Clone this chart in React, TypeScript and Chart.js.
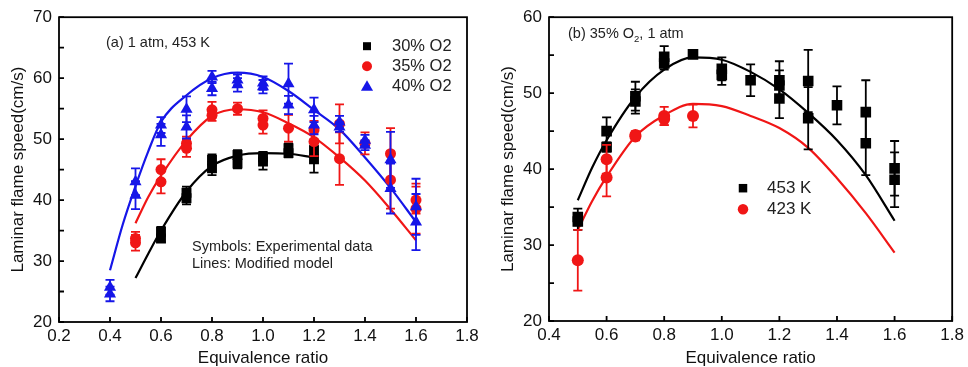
import React, { useEffect, useRef } from 'react';
import { Chart, registerables } from 'chart.js';
Chart.register(...registerables);

const FONT = '"Liberation Sans", Arial, Helvetica, sans-serif';
const BLACK = '#000000';
const RED = '#f01616';
const BLUE = '#1616e8';

// ---------- Panel (a): 1 atm, 453 K ----------
const aX30 = [0.6, 0.6, 0.7, 0.7, 0.8, 0.8, 0.9, 0.9, 1.0, 1.0, 1.1, 1.1, 1.2, 1.2];
const aY30 = [34.8, 33.7, 41.2, 40.3, 46.6, 45.2, 47.4, 46.0, 47.1, 46.3, 48.5, 47.7, 48.2, 46.7];
const aE30 = [0.8, 0.6, 1.0, 1.0, 0.9, 1.1, 0.8, 0.8, 0.8, 1.3, 0.8, 0.7, 1.1, 2.2];

const aX35 = [0.5, 0.5, 0.6, 0.6, 0.7, 0.7, 0.8, 0.8, 0.9, 1.0, 1.0, 1.1, 1.2, 1.2, 1.3, 1.3, 1.4, 1.5, 1.5, 1.6, 1.6];
const aY35 = [33.7, 33.0, 45.0, 43.0, 49.3, 48.5, 54.8, 53.9, 55.0, 53.4, 52.3, 51.8, 51.5, 49.6, 52.5, 46.8, 49.3, 47.6, 43.3, 40.0, 38.6];
const aE35 = [1.1, 1.3, 1.7, 1.9, 1.1, 1.4, 1.3, 0.9, 1.0, 1.3, 1.4, 2.2, 1.5, 2.4, 3.2, 4.3, 1.8, 4.2, 4.7, 2.2, 4.1];

const aX40 = [0.4, 0.4, 0.5, 0.5, 0.6, 0.6, 0.7, 0.7, 0.8, 0.8, 0.9, 0.9, 1.0, 1.0, 1.1, 1.1, 1.2, 1.2, 1.3, 1.3, 1.4, 1.4, 1.5, 1.5, 1.6, 1.6];
const aY40 = [25.7, 24.6, 43.0, 40.8, 52.3, 50.7, 54.9, 52.0, 60.2, 58.3, 59.7, 58.9, 59.2, 58.6, 59.1, 55.6, 54.8, 52.3, 52.8, 52.0, 49.8, 49.0, 46.6, 41.9, 38.9, 36.4];
const aE40 = [1.2, 1.2, 2.2, 2.3, 1.3, 1.8, 2.1, 1.9, 1.0, 1.1, 0.9, 1.1, 1.1, 1.1, 3.3, 1.5, 2.0, 1.5, 1.0, 0.8, 0.9, 0.8, 4.6, 4.1, 4.6, 4.6];

const aCurveX30 = [0.5, 0.55, 0.6, 0.7, 0.8, 0.9, 1.0, 1.1, 1.2];
const aCurve30 = [27.2, 31.2, 35.0, 41.4, 45.6, 47.3, 47.7, 47.6, 47.0];
const aCurveX35 = [0.5, 0.55, 0.6, 0.7, 0.8, 0.9, 1.0, 1.1, 1.2, 1.3, 1.4, 1.5, 1.6];
const aCurve35 = [36.2, 40.5, 44.0, 49.8, 53.8, 54.9, 54.4, 52.6, 50.3, 47.0, 43.2, 38.5, 33.4];
const aCurveX40 = [0.4, 0.45, 0.5, 0.55, 0.6, 0.7, 0.8, 0.9, 1.0, 1.1, 1.2, 1.3, 1.4, 1.5, 1.6];
const aCurve40 = [28.5, 36.0, 42.3, 48.0, 52.8, 57.2, 60.0, 60.9, 60.2, 57.9, 54.8, 51.6, 47.0, 42.0, 36.4];

const aLegend = ['30% O2', '35% O2', '40% O2'];

// ---------- Panel (b): 35% O2, 1 atm ----------
const bX453 = [0.5, 0.5, 0.6, 0.6, 0.7, 0.7, 0.8, 0.8, 0.9, 1.0, 1.0, 1.1, 1.2, 1.2, 1.2, 1.3, 1.3, 1.4, 1.5, 1.5, 1.6, 1.6];
const bY453 = [33.7, 33.1, 45.0, 42.9, 49.6, 48.9, 54.8, 53.9, 55.1, 53.2, 52.4, 51.7, 51.7, 51.0, 49.3, 51.6, 46.7, 48.4, 47.5, 43.4, 40.1, 38.6];
const bE453 = [1.1, 1.1, 1.8, 0.6, 1.9, 1.6, 1.4, 0.8, 0.4, 1.5, 1.3, 2.1, 2.5, 2.0, 2.6, 4.1, 4.1, 2.5, 4.2, 4.2, 3.6, 3.6];

const bX423 = [0.5, 0.6, 0.6, 0.7, 0.7, 0.8, 0.8, 0.9];
const bY423 = [28.0, 41.3, 38.9, 44.5, 44.3, 47.0, 46.6, 47.0];
const bE423 = [4.0, 1.9, 2.5, 0.5, 0.5, 1.2, 0.8, 1.5];

const bCurveX = [0.5, 0.55, 0.6, 0.7, 0.8, 0.9, 1.0, 1.1, 1.2, 1.3, 1.4, 1.5, 1.6];
const bCurve453 = [35.9, 40.2, 43.8, 49.5, 53.1, 54.7, 54.4, 52.8, 50.5, 47.4, 43.8, 39.2, 33.2];
const bCurve423 = [32.0, 35.8, 39.0, 44.3, 47.1, 48.6, 48.3, 47.0, 45.4, 42.8, 38.8, 34.2, 29.0];

const bLegend = ['453 K', '423 K'];

// ---------- helpers ----------
const pts = (xs: number[], ys: number[]) => xs.map((x, i) => ({ x, y: ys[i] }));

const scatterSet = (label: string, xs: number[], ys: number[], errs: number[], color: string, style: string, radius: number, order: number) => ({
  label,
  data: pts(xs, ys),
  errors: errs,
  pointStyle: style,
  pointRadius: radius,
  pointHoverRadius: radius,
  backgroundColor: color,
  borderColor: color,
  pointBorderWidth: 0,
  showLine: false,
  order,
});

const curveSet = (xs: number[], ys: number[], color: string) => ({
  label: '',
  data: pts(xs, ys),
  showLine: true,
  borderColor: color,
  backgroundColor: color,
  borderWidth: 2.2,
  pointRadius: 0,
  cubicInterpolationMode: 'monotone',
  fill: false,
  order: 5,
});

const errorBarPlugin = {
  id: 'errorBars',
  beforeDatasetDraw(chart: any, args: any) {
    const ds = chart.data.datasets[args.index];
    const errs = ds.errors;
    if (!errs) return;
    const { ctx } = chart;
    const x = chart.scales.x;
    const y = chart.scales.y;
    const cap = 4.5;
    ctx.save();
    ctx.strokeStyle = ds.borderColor;
    ctx.lineWidth = 1.8;
    ds.data.forEach((p: any, i: number) => {
      const e = errs[i];
      const px = x.getPixelForValue(p.x);
      const yt = y.getPixelForValue(p.y + e);
      const yb = y.getPixelForValue(p.y - e);
      ctx.beginPath();
      ctx.moveTo(px, yt);
      ctx.lineTo(px, yb);
      ctx.moveTo(px - cap, yt);
      ctx.lineTo(px + cap, yt);
      ctx.moveTo(px - cap, yb);
      ctx.lineTo(px + cap, yb);
      ctx.stroke();
    });
    ctx.restore();
  },
};

const framePlugin = {
  id: 'frame',
  afterDatasetsDraw(chart: any) {
    const { ctx, chartArea: a } = chart;
    const x = chart.scales.x;
    const y = chart.scales.y;
    ctx.save();
    ctx.strokeStyle = '#000';
    ctx.lineWidth = 1.8;
    ctx.strokeRect(a.left, a.top, a.right - a.left, a.bottom - a.top);
    ctx.beginPath();
    x.ticks.forEach((t: any) => {
      const p = x.getPixelForValue(t.value);
      ctx.moveTo(p, a.bottom);
      ctx.lineTo(p, a.bottom - 5);
    });
    y.ticks.forEach((t: any) => {
      const p = y.getPixelForValue(t.value);
      ctx.moveTo(a.left, p);
      ctx.lineTo(a.left + 5, p);
    });
    ctx.stroke();
    ctx.restore();
  },
};

function drawMarker(ctx: CanvasRenderingContext2D, style: string, cx: number, cy: number, s: number, color: string) {
  ctx.fillStyle = color;
  ctx.beginPath();
  if (style === 'rect') {
    ctx.rect(cx - s / 2, cy - s / 2, s, s);
  } else if (style === 'circle') {
    ctx.arc(cx, cy, s / 2, 0, Math.PI * 2);
  } else {
    ctx.moveTo(cx, cy - s * 0.55);
    ctx.lineTo(cx + s * 0.55, cy + s * 0.42);
    ctx.lineTo(cx - s * 0.55, cy + s * 0.42);
    ctx.closePath();
  }
  ctx.fill();
}

function makeConfig(o: any) {
  return {
    type: 'scatter',
    data: { datasets: o.datasets },
    plugins: [errorBarPlugin, framePlugin, { id: 'notes', afterDraw: (chart: any) => o.notes(chart.ctx, chart.chartArea) }],
    options: {
      responsive: false,
      animation: false,
      devicePixelRatio: 1,
      events: [],
      layout: { padding: { left: 0, right: o.padRight, top: 17, bottom: 0 } },
      plugins: { legend: { display: false }, tooltip: { enabled: false } },
      scales: {
        x: {
          type: 'linear',
          min: o.xMin,
          max: o.xMax,
          afterFit: (s: any) => { s.height = o.xAxisHeight; },
          grid: { display: false, drawTicks: false },
          border: { display: false },
          ticks: {
            stepSize: 0.2,
            autoSkip: false,
            maxRotation: 0,
            padding: 4,
            color: '#111',
            font: { family: FONT, size: 17 },
            callback: (v: any) => Number(v).toFixed(1),
          },
          title: {
            display: true,
            text: 'Equivalence ratio',
            color: '#111',
            font: { family: FONT, size: 17, lineHeight: 1 },
            padding: { top: 0, bottom: 0 },
          },
        },
        y: {
          type: 'linear',
          min: o.yMin,
          max: o.yMax,
          afterFit: (s: any) => { s.width = o.yAxisWidth; },
          grid: { display: false, drawTicks: false },
          border: { display: false },
          ticks: {
            stepSize: 5,
            autoSkip: false,
            padding: 7,
            color: '#111',
            font: { family: FONT, size: 17 },
            callback: (v: any) => (Number(v) % 10 === 0 ? String(v) : ''),
          },
          title: {
            display: true,
            text: 'Laminar flame speed(cm/s)',
            color: '#111',
            font: { family: FONT, size: 17, lineHeight: 1.2 },
            padding: { top: o.yTitlePad, bottom: 0 },
          },
        },
      },
    },
  } as any;
}

const configA = () => makeConfig({
  xMin: 0.2, xMax: 1.8, yMin: 20, yMax: 70,
  padRight: 17, xAxisHeight: 45, yAxisWidth: 59, yTitlePad: 8,
  datasets: [
    scatterSet(aLegend[0], aX30, aY30, aE30, BLACK, 'rect', 7, 3),
    scatterSet(aLegend[1], aX35, aY35, aE35, RED, 'circle', 5.5, 2),
    scatterSet(aLegend[2], aX40, aY40, aE40, BLUE, 'triangle', 7, 1),
    curveSet(aCurveX30, aCurve30, BLACK),
    curveSet(aCurveX35, aCurve35, RED),
    curveSet(aCurveX40, aCurve40, BLUE),
  ],
  notes: (ctx: CanvasRenderingContext2D, a: any) => {
    ctx.save();
    ctx.textBaseline = 'middle';
    ctx.textAlign = 'left';
    ctx.fillStyle = '#222';
    ctx.font = `14.5px ${FONT}`;
    ctx.fillText('(a) 1 atm, 453 K', a.left + 47, a.top + 26);
    ctx.fillText('Symbols: Experimental data', a.left + 133, a.top + 230);
    ctx.fillText('Lines: Modified model', a.left + 133, a.top + 247);
    const styles = ['rect', 'circle', 'triangle'];
    const colors = [BLACK, RED, BLUE];
    const sizes = [8, 10, 11];
    ctx.font = `16.5px ${FONT}`;
    aLegend.forEach((t, i) => {
      const yy = a.top + 29 + i * 20;
      drawMarker(ctx, styles[i], a.left + 308, yy, sizes[i], colors[i]);
      ctx.fillStyle = '#222';
      ctx.fillText(t, a.left + 333, yy);
    });
    ctx.restore();
  },
});

const configB = () => makeConfig({
  xMin: 0.4, xMax: 1.8, yMin: 20, yMax: 60,
  padRight: 13, xAxisHeight: 46, yAxisWidth: 65, yTitlePad: 14,
  datasets: [
    scatterSet(bLegend[0], bX453, bY453, bE453, BLACK, 'rect', 7.5, 2),
    scatterSet(bLegend[1], bX423, bY423, bE423, RED, 'circle', 6, 1),
    curveSet(bCurveX, bCurve453, BLACK),
    curveSet(bCurveX, bCurve423, RED),
  ],
  notes: (ctx: CanvasRenderingContext2D, a: any) => {
    ctx.save();
    ctx.textBaseline = 'middle';
    ctx.textAlign = 'left';
    ctx.fillStyle = '#222';
    ctx.font = `14.5px ${FONT}`;
    let x0 = a.left + 19;
    const y0 = a.top + 17;
    const p1 = '(b) 35% O';
    ctx.fillText(p1, x0, y0);
    x0 += ctx.measureText(p1).width;
    ctx.font = `9.5px ${FONT}`;
    ctx.fillText('2', x0, y0 + 5);
    x0 += ctx.measureText('2').width;
    ctx.font = `14.5px ${FONT}`;
    ctx.fillText(', 1 atm', x0, y0);
    const styles = ['rect', 'circle'];
    const colors = [BLACK, RED];
    const sizes = [8.5, 10.5];
    ctx.font = `17px ${FONT}`;
    bLegend.forEach((t, i) => {
      const yy = a.top + 171 + i * 21;
      drawMarker(ctx, styles[i], a.left + 194, yy, sizes[i], colors[i]);
      ctx.fillStyle = '#222';
      ctx.fillText(t, a.left + 218, yy);
    });
    ctx.restore();
  },
});

export default function App() {
  const refA = useRef<HTMLCanvasElement>(null);
  const refB = useRef<HTMLCanvasElement>(null);
  useEffect(() => {
    const ca = new Chart(refA.current as HTMLCanvasElement, configA());
    const cb = new Chart(refB.current as HTMLCanvasElement, configB());
    return () => {
      ca.destroy();
      cb.destroy();
    };
  }, []);
  return (
    <div style={{ position: 'absolute', left: 0, top: 0, width: 968, height: 367, display: 'flex', background: '#fff' }}>
      <canvas ref={refA} width={484} height={367} style={{ display: 'block', width: 484, height: 367 }} />
      <canvas ref={refB} width={484} height={367} style={{ display: 'block', width: 484, height: 367 }} />
    </div>
  );
}
